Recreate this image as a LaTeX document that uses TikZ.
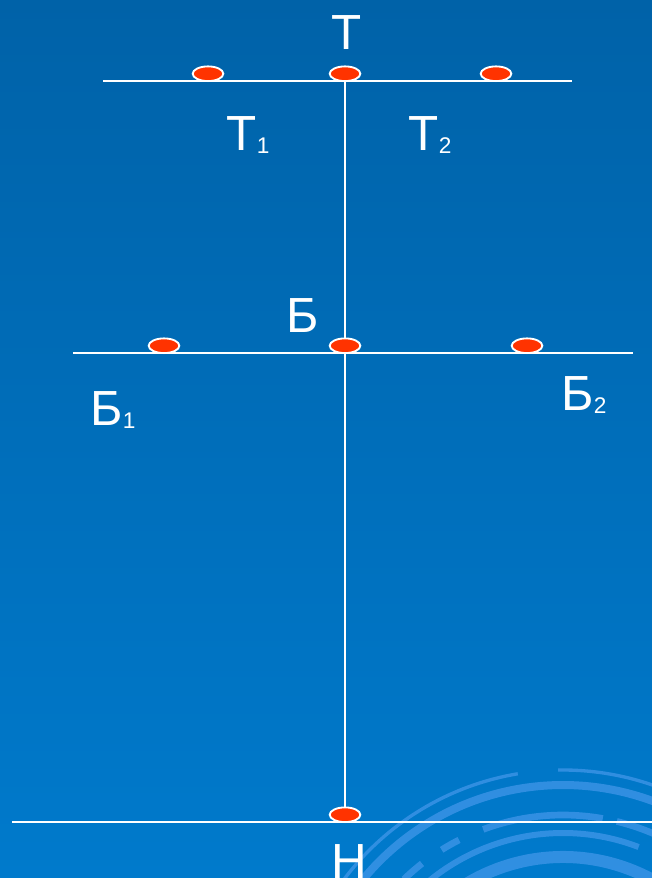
\documentclass[tikz,border=0pt]{standalone}
\usepackage{fontspec}
\setmainfont{Liberation Sans}
\usetikzlibrary{shapes.geometric, positioning}

\definecolor{bgtop}{RGB}{0,98,168}
\definecolor{bgbot}{RGB}{0,122,204}
\definecolor{dotred}{RGB}{255,51,0}
\definecolor{arcblue}{RGB}{75,155,238}

\begin{document}
\begin{tikzpicture}[
    x=0.75pt, y=-0.75pt,
    dot/.style={ellipse, draw=white, line width=1.4pt, fill=dotred,
                minimum width=23pt, minimum height=11pt, inner sep=0pt,
                anchor=south},
    axis/.style={draw=white, line width=1.5pt},
    lbl/.style={text=white, font=\fontsize{37}{37}\selectfont, inner sep=0pt}
  ]
  % background
  \shade[top color=bgtop, bottom color=bgbot] (0,0) rectangle (652,878);
  \useasboundingbox (0,0) rectangle (652,878);

  % decorative arcs
  \coordinate (ac) at (563,1044);
  \begin{scope}
    \clip (0,0) rectangle (652,878);
    \foreach \r/\a/\b/\w in {274/215/260.5/2.5, 274/269/300/2.5,
                             259/208/300/6,
                             229/226/232/5, 229/238/243/5,
                             229/249.6/280/5, 229/283.6/300/5,
                             211/230/291/4.5,
                             187/205/335/9}
      \draw[arcblue, opacity=0.65, line width=\w pt]
        ([shift={(\a:\r)}]ac) arc (\a:\b:\r);
  \end{scope}

  % lines
  \coordinate (t0) at (103,81);
  \coordinate (t9) at (572,81);
  \coordinate (b0) at (73,353);
  \coordinate (b9) at (633,353);
  \coordinate (n0) at (12,822);
  \coordinate (n9) at (652,822);
  \coordinate (tc) at (345,81);
  \coordinate (nc) at (345,822);
  \draw[axis] (t0) -- (t9);
  \draw[axis] (b0) -- (b9);
  \draw[axis] (n0) -- (n9);
  \draw[axis] (tc) -- (nc);

  % dots
  \node[dot] (dT1) at (208,82) {};
  \node[dot] (dT)  at (345,82) {};
  \node[dot] (dT2) at (496,82) {};
  \node[dot] (dB1) at (164,354) {};
  \node[dot] (dB)  at (345,354) {};
  \node[dot] (dB2) at (527,354) {};
  \node[dot] (dN)  at (345,823) {};

  % labels
  \node[lbl] (lT)  at (347,33) {Т};
  \node[lbl] (lT1) at (248,135) {Т\raisebox{-2pt}{\fontsize{17}{17}\selectfont 1}};
  \node[lbl] (lT2) at (430,135) {Т\raisebox{-2pt}{\fontsize{17}{17}\selectfont 2}};
  \node[lbl] (lB)  at (303,316) {Б};
  \node[lbl] (lB1) at (113,410) {Б\raisebox{-2pt}{\fontsize{17}{17}\selectfont 1}};
  \node[lbl] (lB2) at (584,395) {Б\raisebox{-2pt}{\fontsize{17}{17}\selectfont 2}};
  \node[lbl] (lN)  at (349,862) {Н};
\end{tikzpicture}
\end{document}
